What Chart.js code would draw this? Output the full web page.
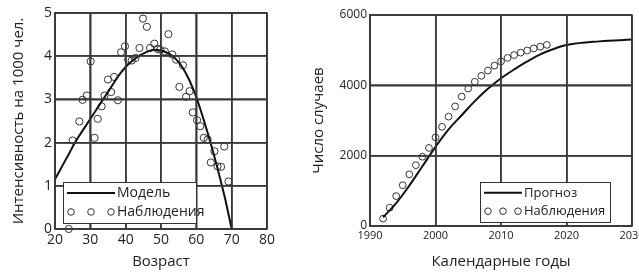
<!DOCTYPE html>
<html>
<head>
<meta charset="utf-8">
<script src="https://cdn.jsdelivr.net/npm/chart.js@4"></script>
<style>
    body { margin: 0; background: #fff; }
    canvas { position: absolute; top: 0; }
</style>
</head>
<body>
<canvas id="age" width="300" height="275" style="left:0"></canvas>
<canvas id="years" width="339" height="275" style="left:300px"></canvas>
<script>
// Left chart: incidence by age
const ageObs = [23.9, 25, 26.9, 27.8, 29, 30.1, 31.2, 32.1, 33.2, 34, 35, 35.9, 36.7, 37.8, 38.7,
    39.8, 40.7, 41.7, 42.8, 43.9, 44.9, 46, 46.9, 48.1, 49, 49.8, 51.1, 52.1, 53.2, 54.3, 55.2,
    56.2, 57.1, 58.1, 59, 60.2, 61.1, 62.1, 63.2, 64.1, 65.1, 66, 67, 67.9, 69.1];
const rateObs = [0.0, 2.05, 2.49, 2.99, 3.09, 3.88, 2.11, 2.55, 2.84, 3.09, 3.46, 3.17, 3.52, 2.98, 4.09,
    4.23, 3.92, 3.9, 3.96, 4.19, 4.87, 4.68, 4.19, 4.29, 4.17, 4.15, 4.11, 4.51, 4.04, 3.92, 3.29,
    3.79, 3.06, 3.19, 2.7, 2.52, 2.38, 2.11, 2.07, 1.54, 1.8, 1.45, 1.44, 1.91, 1.1];
const ageModel = [20, 22, 24, 26, 28, 30, 32, 34, 36, 38, 40, 42, 44, 46, 48, 50, 52, 54, 56, 58, 60, 62, 64, 66, 68, 70];
const rateModel = [1.15, 1.45, 1.75, 2.05, 2.3, 2.55, 2.8, 3.05, 3.3, 3.55, 3.75, 3.9, 4.02, 4.1, 4.15, 4.13,
    4.07, 3.95, 3.75, 3.45, 3.05, 2.55, 2.0, 1.4, 0.75, 0.0];

// Right chart: cases by calendar year
const yearObs = [1992, 1993, 1994, 1995, 1996, 1997, 1998, 1999, 2000, 2001, 2002, 2003, 2004,
    2005, 2006, 2007, 2008, 2009, 2010, 2011, 2012, 2013, 2014, 2015, 2016, 2017];
const casesObs = [210, 520, 850, 1160, 1470, 1730, 1970, 2220, 2520, 2820, 3110, 3400, 3680,
    3910, 4100, 4270, 4420, 4560, 4680, 4780, 4860, 4930, 4990, 5050, 5100, 5150];
const yearForecast = [1992, 1994, 1996, 1998, 2000, 2002, 2004, 2006, 2008, 2010, 2012, 2014, 2016, 2018, 2020, 2025, 2030];
const casesForecast = [250, 650, 1150, 1700, 2250, 2750, 3150, 3550, 3900, 4200, 4450, 4680, 4880, 5030, 5150, 5250, 5300];

const FONT = '"Open Sans", sans-serif';
const INK = '#222';
const GRID_COLOR = '#3a3a3a';

function toXY(xs, ys) {
    return xs.map((x, i) => ({ x: x, y: ys[i] }));
}

/*
*   Grid and frame from the scales' ticks, then the boxed legend
*/
const boxLegend = {
    id: 'boxLegend',
    afterDraw(chart, args, opts) {
        const ctx = chart.ctx;
        const area = chart.chartArea;
        const sx = chart.scales.x, sy = chart.scales.y;
        ctx.save();
        ctx.strokeStyle = GRID_COLOR;
        ctx.lineWidth = 1.5;
        sx.ticks.forEach(t => {
            const px = Math.round(sx.getPixelForValue(t.value));
            ctx.beginPath();
            ctx.moveTo(px, area.top);
            ctx.lineTo(px, area.bottom);
            ctx.stroke();
        });
        sy.ticks.forEach(t => {
            const py = Math.round(sy.getPixelForValue(t.value));
            ctx.beginPath();
            ctx.moveTo(area.left, py);
            ctx.lineTo(area.right, py);
            ctx.stroke();
        });
        ctx.beginPath();
        ctx.rect(area.left, area.top, area.right - area.left, area.bottom - area.top);
        ctx.stroke();

        // legend box
        ctx.fillStyle = '#fff';
        ctx.fillRect(opts.x, opts.y, opts.w, opts.h);
        ctx.strokeStyle = '#333';
        ctx.lineWidth = 1;
        ctx.strokeRect(opts.x + 0.5, opts.y + 0.5, opts.w, opts.h);
        // line sample
        ctx.strokeStyle = '#111';
        ctx.lineWidth = 2;
        ctx.beginPath();
        ctx.moveTo(opts.x + 4, opts.y + opts.h * 0.27);
        ctx.lineTo(opts.x + opts.sample, opts.y + opts.h * 0.27);
        ctx.stroke();
        // three circles
        ctx.lineWidth = 1;
        ctx.strokeStyle = '#333';
        for (let k = 0; k < 3; k++) {
            ctx.beginPath();
            ctx.arc(opts.x + 8 + k * (opts.sample - 12) / 2, opts.y + opts.h * 0.73, 3.3, 0, Math.PI * 2);
            ctx.stroke();
        }
        ctx.fillStyle = INK;
        ctx.font = opts.size + 'px ' + FONT;
        ctx.textBaseline = 'middle';
        ctx.fillText(opts.labels[0], opts.x + opts.sample + 2, opts.y + opts.h * 0.27);
        ctx.fillText(opts.labels[1], opts.x + opts.sample + 2, opts.y + opts.h * 0.73);
        ctx.restore();
    }
};

function axis(min, max, step, title, titleSize, tickSize, fit) {
    return {
        type: 'linear',
        min: min,
        max: max,
        afterFit: fit,
        ticks: {
            stepSize: step,
            color: INK,
            font: { family: FONT, size: tickSize },
            padding: 3,
            callback: v => String(v)
        },
        grid: { color: GRID_COLOR, lineWidth: 1.5, drawTicks: false },
        border: { color: GRID_COLOR, width: 1.5 },
        title: { display: true, text: title, color: INK, font: { family: FONT, size: titleSize }, padding: 0 }
    };
}

new Chart(document.getElementById('age'), {
    type: 'scatter',
    data: {
        datasets: [
            {
                label: 'Модель',
                data: toXY(ageModel, rateModel),
                showLine: true,
                fill: false,
                borderColor: '#111',
                borderWidth: 2,
                pointRadius: 0,
                tension: 0.4
            },
            {
                label: 'Наблюдения',
                data: toXY(ageObs, rateObs),
                borderColor: '#333',
                backgroundColor: 'rgba(0,0,0,0)',
                borderWidth: 1,
                pointRadius: 3.6,
                clip: false
            }
        ]
    },
    options: {
        responsive: false,
        animation: false,
        layout: { padding: { top: 13, right: 33, left: 10, bottom: 4 } },
        scales: {
            x: axis(20, 80, 10, 'Возраст', 15, 14, s => { s.height = 42; }),
            y: axis(0, 5, 1, 'Интенсивность на 1000 чел.', 15, 14, s => { s.width = 45; })
        },
        plugins: {
            legend: { display: false },
            tooltip: { enabled: false },
            boxLegend: { x: 63, y: 182, w: 133, h: 41, sample: 52, size: 14, labels: ['Модель', 'Наблюдения'] }
        }
    },
    plugins: [boxLegend]
});

new Chart(document.getElementById('years'), {
    type: 'scatter',
    data: {
        datasets: [
            {
                label: 'Прогноз',
                data: toXY(yearForecast, casesForecast),
                showLine: true,
                fill: false,
                borderColor: '#111',
                borderWidth: 2,
                pointRadius: 0,
                tension: 0.4
            },
            {
                label: 'Наблюдения',
                data: toXY(yearObs, casesObs),
                borderColor: '#333',
                backgroundColor: 'rgba(0,0,0,0)',
                borderWidth: 1,
                pointRadius: 3.4,
                clip: false
            }
        ]
    },
    options: {
        responsive: false,
        animation: false,
        layout: { padding: { top: 15, right: 7, left: 10, bottom: 4 } },
        scales: {
            x: axis(1990, 2030, 10, 'Календарные годы', 15, 11, s => {
                s.height = 45;
                s.paddingRight = 0;
                s.paddingLeft = 0;
            }),
            y: axis(0, 6000, 2000, 'Число случаев', 15, 12, s => { s.width = 60; })
        },
        plugins: {
            legend: { display: false },
            tooltip: { enabled: false },
            boxLegend: { x: 180, y: 182, w: 130, h: 40, sample: 42, size: 13, labels: ['Прогноз', 'Наблюдения'] }
        }
    },
    plugins: [boxLegend]
});
</script>
</body>
</html>
